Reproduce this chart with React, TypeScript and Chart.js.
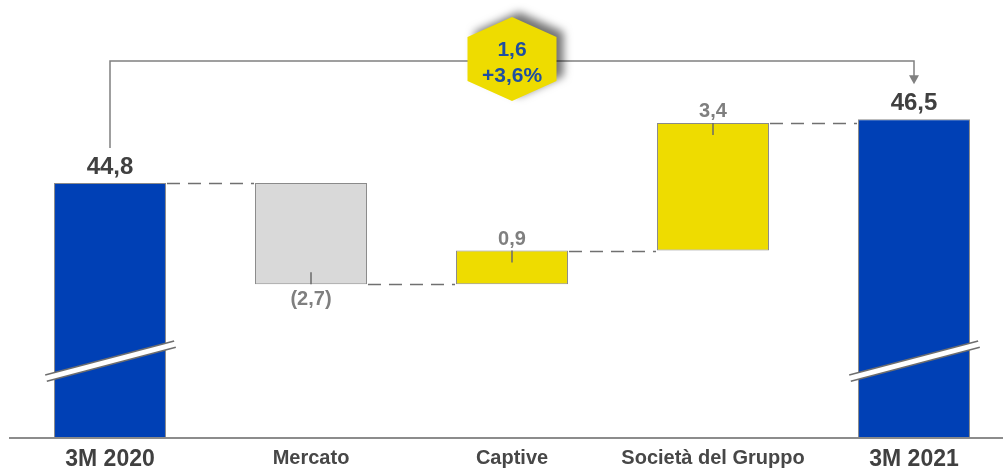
import React, { useEffect, useRef } from "react";
import { Chart, registerables } from "chart.js";

Chart.register(...registerables);

const categories = ["3M 2020", "Mercato", "Captive", "Società del Gruppo", "3M 2021"];
const startValue = 44.8;
const deltas = [-2.7, 0.9, 3.4];
const endValue = 46.5;
const valueLabels = ["44,8", "(2,7)", "0,9", "3,4", "46,5"];
const changeLabels = ["1,6", "+3,6%"];
const axisMin = 38;
const axisMax = 49.5;
const breakValue = 40.05;

const FONT = '"Liberation Sans", Arial, sans-serif';
const BLUE = "#0040B5";
const GRAY = "#D9D9D9";
const YELLOW = "#EEDC00";

function buildRanges(): [number, number][] {
  const r: [number, number][] = [[axisMin, startValue]];
  let cum = startValue;
  for (const d of deltas) {
    r.push([cum, Math.round((cum + d) * 100) / 100]);
    cum += d;
  }
  r.push([axisMin, endValue]);
  return r;
}

const ranges = buildRanges();
const barColors = [BLUE, GRAY, YELLOW, YELLOW, BLUE];

const decorPlugin = {
  id: "decor",
  afterDatasetsDraw(chart: any) {
    const ctx = chart.ctx as CanvasRenderingContext2D;
    const meta = chart.getDatasetMeta(0);
    const y = chart.scales.y;
    const bars = meta.data.map((el: any, i: number) => {
      const w = el.width;
      return {
        x: el.x,
        left: el.x - w / 2,
        right: el.x + w / 2,
        startPx: y.getPixelForValue(ranges[i][0]),
        endPx: y.getPixelForValue(ranges[i][1]),
      };
    });
    const n = bars.length;

    // dashed connectors
    ctx.save();
    ctx.strokeStyle = "#707070";
    ctx.lineWidth = 1.6;
    ctx.setLineDash([13, 8]);
    for (let i = 0; i < n - 1; i++) {
      const py = Math.round(bars[i].endPx) + 0.5;
      ctx.beginPath();
      ctx.moveTo(bars[i].right + 1, py);
      ctx.lineTo(bars[i + 1].left - 1, py);
      ctx.stroke();
    }
    ctx.restore();

    // small ticks inside delta bars
    ctx.save();
    ctx.strokeStyle = "#6a6a6a";
    ctx.lineWidth = 1.5;
    for (let i = 1; i < n - 1; i++) {
      const b = bars[i];
      const dir = b.startPx > b.endPx ? 1 : -1;
      ctx.beginPath();
      ctx.moveTo(b.x, b.endPx);
      ctx.lineTo(b.x, b.endPx + dir * 12);
      ctx.stroke();
    }
    ctx.restore();

    // axis breaks on total bars
    const by = y.getPixelForValue(breakValue);
    for (const i of [0, n - 1]) {
      const b = bars[i];
      const x1 = b.left - 8;
      const x2 = b.right + 9;
      ctx.save();
      ctx.lineCap = "butt";
      ctx.strokeStyle = "#6e6e6e";
      ctx.lineWidth = 8;
      ctx.beginPath();
      ctx.moveTo(x1, by + 17);
      ctx.lineTo(x2, by - 17);
      ctx.stroke();
      ctx.strokeStyle = "#ffffff";
      ctx.lineWidth = 5;
      ctx.beginPath();
      ctx.moveTo(x1 - 1, by + 17.3);
      ctx.lineTo(x2 + 1, by - 17.3);
      ctx.stroke();
      ctx.restore();
    }

    // value labels
    ctx.save();
    ctx.textAlign = "center";
    ctx.textBaseline = "alphabetic";
    for (let i = 0; i < n; i++) {
      const b = bars[i];
      if (i === 0 || i === n - 1) {
        ctx.font = `bold 24px ${FONT}`;
        ctx.fillStyle = "#404040";
        ctx.fillText(valueLabels[i], b.x, Math.min(b.endPx, b.startPx) - 9);
      } else {
        ctx.font = `bold 20px ${FONT}`;
        ctx.fillStyle = "#7f7f7f";
        if (b.endPx > b.startPx) {
          ctx.fillText(valueLabels[i], b.x, b.endPx + 21);
        } else {
          ctx.fillText(valueLabels[i], b.x, b.endPx - 6);
        }
      }
    }
    ctx.restore();

    // bracket with arrow
    const b0 = bars[0];
    const bN = bars[n - 1];
    const lineY = 61;
    const leftEnd = b0.endPx - 35;
    const tipY = bN.endPx - 35;
    ctx.save();
    ctx.strokeStyle = "#808080";
    ctx.lineWidth = 1.5;
    ctx.beginPath();
    ctx.moveTo(b0.x, leftEnd);
    ctx.lineTo(b0.x, lineY);
    ctx.lineTo(bN.x, lineY);
    ctx.lineTo(bN.x, tipY - 8);
    ctx.stroke();
    ctx.fillStyle = "#808080";
    ctx.beginPath();
    ctx.moveTo(bN.x - 5, tipY - 9);
    ctx.lineTo(bN.x + 5, tipY - 9);
    ctx.lineTo(bN.x, tipY);
    ctx.closePath();
    ctx.fill();
    ctx.restore();

    // hexagon badge
    const cx = (b0.x + bN.x) / 2;
    const cy = 59;
    const hw = 44.5;
    const hh = 42;
    const sd = 22;
    ctx.save();
    ctx.shadowColor = "rgba(0,0,0,0.55)";
    ctx.shadowBlur = 8;
    ctx.shadowOffsetX = 7;
    ctx.shadowOffsetY = -5;
    ctx.fillStyle = YELLOW;
    ctx.beginPath();
    ctx.moveTo(cx, cy - hh);
    ctx.lineTo(cx + hw, cy - sd);
    ctx.lineTo(cx + hw, cy + sd);
    ctx.lineTo(cx, cy + hh);
    ctx.lineTo(cx - hw, cy + sd);
    ctx.lineTo(cx - hw, cy - sd);
    ctx.closePath();
    ctx.fill();
    ctx.restore();

    ctx.save();
    ctx.fillStyle = "#1F4FA0";
    ctx.font = `bold 21px ${FONT}`;
    ctx.textAlign = "center";
    ctx.textBaseline = "middle";
    ctx.fillText(changeLabels[0], cx, 50);
    ctx.fillText(changeLabels[1], cx, 76);
    ctx.restore();
  },
};

export default function App() {
  const ref = useRef<HTMLCanvasElement | null>(null);

  useEffect(() => {
    if (!ref.current) return;
    const chart = new Chart(ref.current, {
      type: "bar",
      data: {
        labels: categories,
        datasets: [
          {
            data: ranges as any,
            backgroundColor: barColors,
            borderColor: "#8a8a8a",
            borderWidth: 1,
            borderSkipped: false,
            barPercentage: 0.557,
            categoryPercentage: 1,
          },
        ],
      },
      options: {
        animation: false,
        responsive: true,
        maintainAspectRatio: false,
        layout: { padding: { left: 9.5, right: 5.5, top: 6.75, bottom: 0 } },
        plugins: {
          legend: { display: false },
          tooltip: { enabled: false },
        },
        scales: {
          x: {
            offset: true,
            grid: { display: false, drawTicks: false },
            border: { display: true, color: "#8c8c8c", width: 2 },
            ticks: {
              padding: 8,
              color: (c: any) => (c.index === 0 || c.index === 4 ? "#404040" : "#474747"),
              font: (c: any) => ({
                family: FONT,
                weight: "bold",
                size: c.index === 0 || c.index === 4 ? 23 : 20,
              }),
            },
            afterFit: (s: any) => {
              s.height = 34;
            },
          },
          y: {
            display: false,
            min: axisMin,
            max: axisMax,
          },
        },
      },
      plugins: [decorPlugin],
    });
    return () => chart.destroy();
  }, []);

  return (
    <div
      style={{
        position: "fixed",
        left: 0,
        top: 0,
        width: 1003,
        height: 472,
        overflow: "hidden",
        background: "#ffffff",
      }}
    >
      <div style={{ position: "absolute", left: 0, top: 0, width: 1020, height: 472 }}>
        <canvas ref={ref} />
      </div>
    </div>
  );
}
